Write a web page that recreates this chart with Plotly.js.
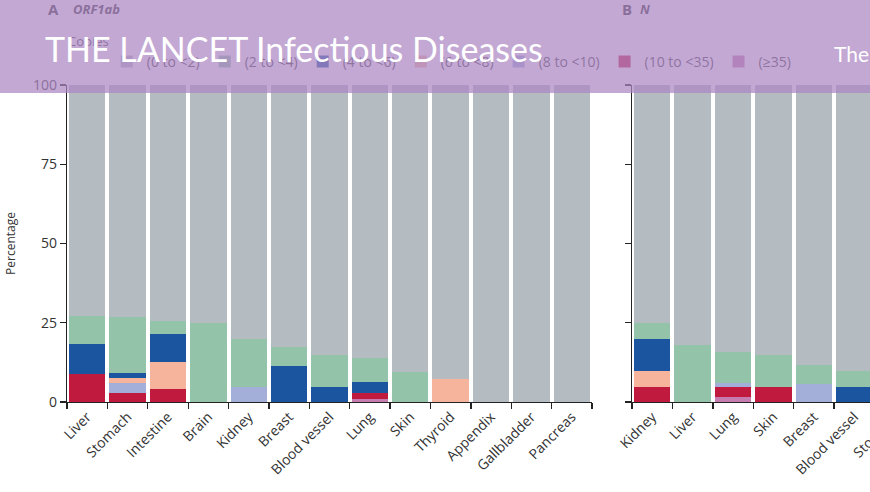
<!DOCTYPE html>
<html>
<head>
<meta charset="utf-8">
<script src="https://cdn.plot.ly/plotly-3.0.1.min.js"></script>
<style>
html,body{margin:0;padding:0;overflow:hidden;background:#fff;}
#wrap{position:relative;width:915px;height:492px;}
#banner{position:absolute;left:0;top:0;width:915px;height:93px;background:rgba(172,134,195,0.72);pointer-events:none;}
#banner span{position:absolute;color:#fff;font-family:Lato,sans-serif;white-space:nowrap;}
</style>
</head>
<body>
<div id="wrap">
<div id="chart"></div>
<div id="banner"><span style="left:45px;top:32px;font-size:34px;line-height:34px;">THE LANCET Infectious Diseases</span><span style="left:834px;top:43px;font-size:21px;line-height:21px;">The</span></div>
</div>
<script>
// Panel A: ORF1ab
const catsA = ["Liver","Stomach","Intestine","Brain","Kidney","Breast","Blood vessel","Lung","Skin","Thyroid","Appendix","Gallbladder","Pancreas"];
const a_0to2   = [73.0, 73.2, 74.4, 75.0, 80.2, 82.6, 85.2, 86.2, 90.4, 92.6, 100, 100, 100];
const a_2to4   = [8.8, 17.5, 4.2, 25.0, 15.2, 5.9, 10.2, 7.6, 9.6, 0, 0, 0, 0];
const a_4to6   = [9.3, 1.6, 8.7, 0, 0, 11.5, 4.6, 3.5, 0, 0, 0, 0, 0];
const a_6to8   = [0, 1.8, 8.7, 0, 0, 0, 0, 0, 0, 7.4, 0, 0, 0];
const a_8to10  = [0, 3.0, 0, 0, 4.6, 0, 0, 0, 0, 0, 0, 0, 0];
const a_10to35 = [8.9, 2.9, 4.0, 0, 0, 0, 0, 1.7, 0, 0, 0, 0, 0];
const a_ge35   = [0, 0, 0, 0, 0, 0, 0, 1.0, 0, 0, 0, 0, 0];

// Panel B: N
const catsB = ["Kidney","Liver","Lung","Skin","Breast","Blood vessel","Stomach"];
const b_0to2   = [75.2, 82.0, 84.1, 85.2, 88.3, 90.2, null];
const b_2to4   = [4.9, 18.0, 10.0, 10.0, 6.0, 5.0, null];
const b_4to6   = [10.1, 0, 0, 0, 0, 4.8, null];
const b_6to8   = [5.0, 0, 0, 0, 0, 0, null];
const b_8to10  = [0, 0, 1.3, 0, 5.7, 0, null];
const b_10to35 = [4.8, 0, 3.1, 4.8, 0, 0, null];
const b_ge35   = [0, 0, 1.5, 0, 0, 0, null];

const binNames  = ["(≥35)","(10 to <35)","(8 to <10)","(6 to <8)","(4 to <6)","(2 to <4)","(0 to <2)"];
const binColors = ["#c67cae","#c11a3f","#a3afd9","#f5b49b","#1b55a0","#93c3a8","#b4bbc1"];
const seriesA = [a_ge35, a_10to35, a_8to10, a_6to8, a_4to6, a_2to4, a_0to2];
const seriesB = [b_ge35, b_10to35, b_8to10, b_6to8, b_4to6, b_2to4, b_0to2];

const traces = [];
seriesA.forEach((ys, i) => traces.push({
  type: "bar", x: catsA, y: ys, name: binNames[i], xaxis: "x", yaxis: "y",
  marker: {color: binColors[i], line: {width: 0}}, legendgroup: binNames[i], hoverinfo: "skip"
}));
seriesB.forEach((ys, i) => traces.push({
  type: "bar", x: catsB, y: ys, name: binNames[i], xaxis: "x2", yaxis: "y2",
  marker: {color: binColors[i], line: {width: 0}}, legendgroup: binNames[i], showlegend: false, hoverinfo: "skip"
}));

const W = 915, H = 492, ML = 67, MT = 85, MB = 90;
const PW = W - ML, PH = H - MT - MB;
const px = v => (v - ML) / PW;
const py = v => (H - MB - v) / PH;

const fontFam = "'Open Sans', sans-serif";
const axisCommon = {
  showline: true, linecolor: "#222", linewidth: 1.3,
  ticks: "outside", ticklen: 6, tickwidth: 1.3, tickcolor: "#222",
  showgrid: false, zeroline: false, fixedrange: true
};

const layout = {
  width: W, height: H,
  margin: {l: ML, r: 0, t: MT, b: MB},
  paper_bgcolor: "#fff", plot_bgcolor: "#fff",
  barmode: "stack", bargap: 0.1,
  font: {family: fontFam, color: "#333", size: 13},
  showlegend: true,
  legend: {
    orientation: "h", x: px(66), xanchor: "left", y: py(29), yanchor: "top",
    traceorder: "reversed", font: {size: 14, color: "#444"},
    title: {text: "Copies", side: "top left", font: {size: 13, color: "#444"}},
    bgcolor: "rgba(0,0,0,0)"
  },
  xaxis: Object.assign({}, axisCommon, {
    domain: [0, px(592)], type: "category", categoryorder: "array", categoryarray: catsA,
    range: [-0.5, 12.5], tickson: "boundaries", tickangle: -45, anchor: "y",
    tickfont: {size: 14, color: "#333"}
  }),
  yaxis: Object.assign({}, axisCommon, {
    domain: [0, 1], range: [0, 100], tickvals: [0, 25, 50, 75, 100], anchor: "x",
    tickfont: {size: 14, color: "#333"},
    title: {text: "Percentage", font: {size: 12, color: "#333"}, standoff: 14}
  }),
  xaxis2: Object.assign({}, axisCommon, {
    domain: [px(632), 1], type: "category", categoryorder: "array", categoryarray: catsB,
    range: [-0.5, 6.5], tickson: "boundaries", tickangle: -45, anchor: "y2",
    tickfont: {size: 14, color: "#333"}
  }),
  yaxis2: Object.assign({}, axisCommon, {
    domain: [0, 1], range: [0, 100], tickvals: [0, 25, 50, 75, 100], anchor: "x2",
    showticklabels: false
  }),
  annotations: [
    {text: "<b>A</b>", xref: "paper", yref: "paper", x: px(46), y: py(9), xanchor: "left", yanchor: "middle", showarrow: false, font: {size: 15, color: "#333"}},
    {text: "<b><i>ORF1ab</i></b>", xref: "paper", yref: "paper", x: px(71), y: py(9), xanchor: "left", yanchor: "middle", showarrow: false, font: {size: 13, color: "#333"}},
    {text: "<b>B</b>", xref: "paper", yref: "paper", x: px(620), y: py(9), xanchor: "left", yanchor: "middle", showarrow: false, font: {size: 15, color: "#333"}},
    {text: "<b><i>N</i></b>", xref: "paper", yref: "paper", x: px(638), y: py(9), xanchor: "left", yanchor: "middle", showarrow: false, font: {size: 13, color: "#333"}}
  ]
};

Plotly.newPlot("chart", traces, layout, {displayModeBar: false, staticPlot: true});
</script>
</body>
</html>
